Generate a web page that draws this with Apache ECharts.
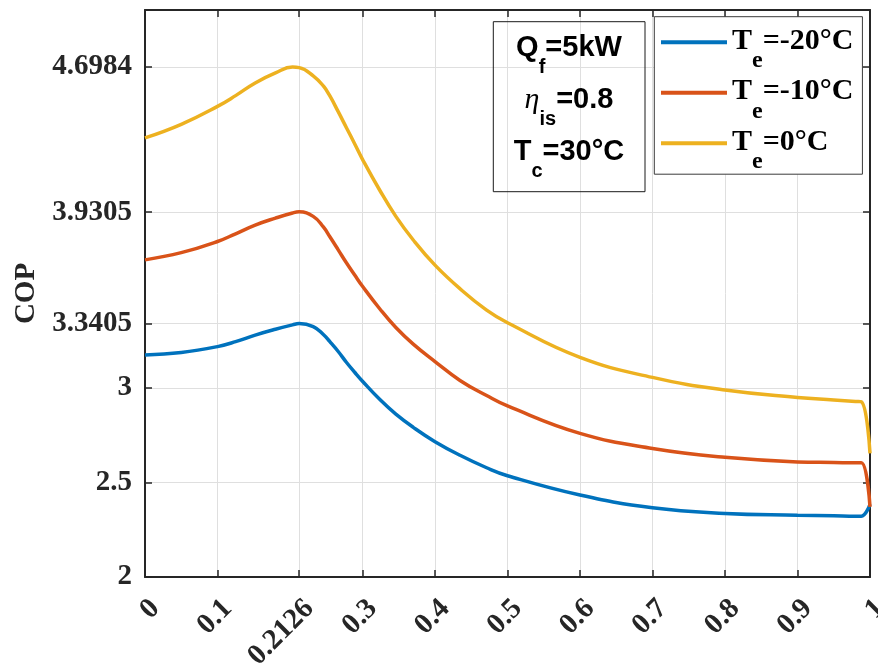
<!DOCTYPE html>
<html>
<head>
<meta charset="utf-8">
<script src="https://cdn.jsdelivr.net/npm/echarts@6/dist/echarts.min.js"></script>
<style>html,body{margin:0;padding:0;background:#fff;}#c{width:878px;height:666px;}</style>
</head>
<body>
<div id="c"></div>
<script>
// ---- data ----
const xValues  = [0, 0.05, 0.1, 0.125, 0.152, 0.18, 0.2035, 0.2126, 0.232, 0.246, 0.255, 0.2665, 0.278, 0.2895, 0.3, 0.324, 0.346, 0.37, 0.4, 0.4345, 0.4712, 0.5, 0.6, 0.7, 0.8, 0.9, 0.95, 0.98, 0.988, 1];
const copTe0   = [4.323, 4.395, 4.490, 4.547, 4.614, 4.667, 4.698, 4.695, 4.652, 4.598, 4.545, 4.462, 4.376, 4.290, 4.210, 4.045, 3.908, 3.783, 3.650, 3.525, 3.412, 3.345, 3.162, 3.056, 2.989, 2.950, 2.937, 2.929, 2.927, 2.654];
const copTem10 = [3.678, 3.716, 3.775, 3.816, 3.862, 3.899, 3.926, 3.932, 3.908, 3.852, 3.800, 3.731, 3.661, 3.596, 3.538, 3.418, 3.320, 3.232, 3.140, 3.040, 2.960, 2.905, 2.760, 2.680, 2.633, 2.609, 2.606, 2.604, 2.604, 2.371];
const copTem20 = [3.175, 3.188, 3.219, 3.245, 3.280, 3.311, 3.334, 3.341, 3.325, 3.283, 3.245, 3.193, 3.135, 3.082, 3.036, 2.939, 2.862, 2.792, 2.716, 2.644, 2.578, 2.536, 2.434, 2.366, 2.336, 2.327, 2.324, 2.322, 2.322, 2.385];
const seriesTemps = ['-20', '-10', '0'];
const xTicks = [0, 0.1, 0.2126, 0.3, 0.4, 0.5, 0.6, 0.7, 0.8, 0.9, 1];
const xTickLabels = ['0', '0.1', '0.2126', '0.3', '0.4', '0.5', '0.6', '0.7', '0.8', '0.9', '1'];
const yTicks = [2, 2.5, 3, 3.3405, 3.9305, 4.6984];
const yTickLabels = ['2', '2.5', '3', '3.3405', '3.9305', '4.6984'];
const yAxisName = 'COP';

const colors = ['#0072BD', '#D95319', '#EDB120'];
const seriesValues = [copTem20, copTem10, copTe0];

function pairs(ys) { return xValues.map((x, i) => [x, ys[i]]); }

const chart = echarts.init(document.getElementById('c'), null, {renderer: 'canvas'});
const axisColor = '#262626';
const serif = 'Liberation Serif';
const sans = 'Liberation Sans';

const series = seriesValues.map((ys, i) => ({
  name: 'Te=' + seriesTemps[i] + '°C',
  type: 'line',
  data: pairs(ys),
  symbol: 'none',
  smooth: 0.45,
  lineStyle: {color: colors[i], width: 3.5},
  itemStyle: {color: colors[i]},
  xAxisIndex: 0, yAxisIndex: 0,
  z: 3
}));

const mainSans = {fontFamily: sans, fontWeight: 'bold', fontSize: 29, lineHeight: 30, verticalAlign: 'top', fill: '#000'};
const subSans = {fontFamily: sans, fontWeight: 'bold', fontSize: 20, lineHeight: 20, padding: [24, 0, 0, 0], verticalAlign: 'top', fill: '#000'};
const etaStyle = {fontFamily: serif, fontStyle: 'italic', fontSize: 30, lineHeight: 30, verticalAlign: 'top', fill: '#000'};

const option = {
  backgroundColor: '#fff',
  animation: false,
  color: colors,
  grid: {left: 145, right: 8, top: 10, bottom: 89, containLabel: false, outerBoundsMode: 'none'},
  xAxis: [{
    type: 'value', min: 0, max: 1, position: 'bottom',
    axisLine: {show: true, onZero: false, lineStyle: {color: axisColor, width: 2}},
    axisTick: {show: true, inside: true, length: 7, customValues: xTicks, lineStyle: {color: axisColor, width: 1.5}},
    axisLabel: {show: true, customValues: xTicks, rotate: 45, margin: 17, verticalAlign: 'top', hideOverlap: false,
      formatter: v => { const k = xTicks.findIndex(t => Math.abs(t - v) < 1e-9); return k >= 0 ? xTickLabels[k] : ''; },
      fontFamily: serif, fontWeight: 'bold', fontSize: 29, color: axisColor},
    splitLine: {show: true, lineStyle: {color: '#dfdfdf', width: 1}}
  }, {
    type: 'value', min: 0, max: 1, position: 'top',
    axisLine: {show: true, onZero: false, lineStyle: {color: axisColor, width: 2}},
    axisTick: {show: true, inside: true, length: 7, customValues: xTicks, lineStyle: {color: axisColor, width: 1.5}},
    axisLabel: {show: false},
    splitLine: {show: false}
  }],
  yAxis: [{
    type: 'value', min: 2, max: 5, position: 'left',
    name: yAxisName, nameLocation: 'middle', nameRotate: 90, nameGap: 103,
    nameTextStyle: {fontFamily: serif, fontWeight: 'bold', fontSize: 29, color: axisColor},
    axisLine: {show: true, onZero: false, lineStyle: {color: axisColor, width: 2}},
    axisTick: {show: true, inside: true, length: 7, customValues: yTicks, lineStyle: {color: axisColor, width: 1.5}},
    axisLabel: {show: true, customValues: yTicks, margin: 13,
      formatter: v => { const k = yTicks.findIndex(t => Math.abs(t - v) < 1e-9); return k >= 0 ? yTickLabels[k] : ''; },
      fontFamily: serif, fontWeight: 'bold', fontSize: 29, color: axisColor},
    splitLine: {show: true, lineStyle: {color: '#dfdfdf', width: 1}}
  }, {
    type: 'value', min: 2, max: 5, position: 'right',
    axisLine: {show: true, onZero: false, lineStyle: {color: axisColor, width: 2}},
    axisTick: {show: true, inside: true, length: 7, customValues: yTicks, lineStyle: {color: axisColor, width: 1.5}},
    axisLabel: {show: false},
    splitLine: {show: false}
  }],
  legend: {
    orient: 'vertical', left: 654.3, top: 16.7,
    padding: [9.5, 9, 0, 6.7],
    itemGap: 3.5, itemWidth: 66, itemHeight: 4, icon: 'rect',
    backgroundColor: '#fff', borderColor: '#3a3a3a', borderWidth: 1, borderRadius: 0,
    align: 'left',
    formatter: name => { const t = name.replace('Te=', ''); return '{a|T}{b|e}{a|=' + t + '}'; },
    textStyle: {
      rich: {
        a: {fontFamily: serif, fontWeight: 'bold', fontSize: 30, lineHeight: 32, verticalAlign: 'top', color: '#000'},
        b: {fontFamily: serif, fontWeight: 'bold', fontSize: 24, lineHeight: 24, padding: [23, 0, 0, 0], verticalAlign: 'top', color: '#000'}
      }
    },
    data: series.map(s => s.name)
  },
  graphic: [
    {type: 'rect', shape: {x: 493.3, y: 21.7, width: 151.7, height: 170}, style: {fill: 'none', stroke: '#1a1a1a', lineWidth: 1}, z: 10},
    {type: 'text', x: 569, y: 33.3, z: 10, style: {text: '{m|Q}{s|f}{m|=5kW}', align: 'center', verticalAlign: 'top',
      rich: {m: mainSans, s: subSans}}},
    {type: 'text', x: 569, y: 85, z: 10, style: {text: '{g|η}{s|is}{m|=0.8}', align: 'center', verticalAlign: 'top',
      rich: {m: mainSans, g: etaStyle, s: subSans}}},
    {type: 'text', x: 569, y: 137.7, z: 10, style: {text: '{m|T}{s|c}{m|=30°C}', align: 'center', verticalAlign: 'top',
      rich: {m: mainSans, s: subSans}}}
  ],
  series: series
};
chart.setOption(option);
</script>
</body>
</html>
